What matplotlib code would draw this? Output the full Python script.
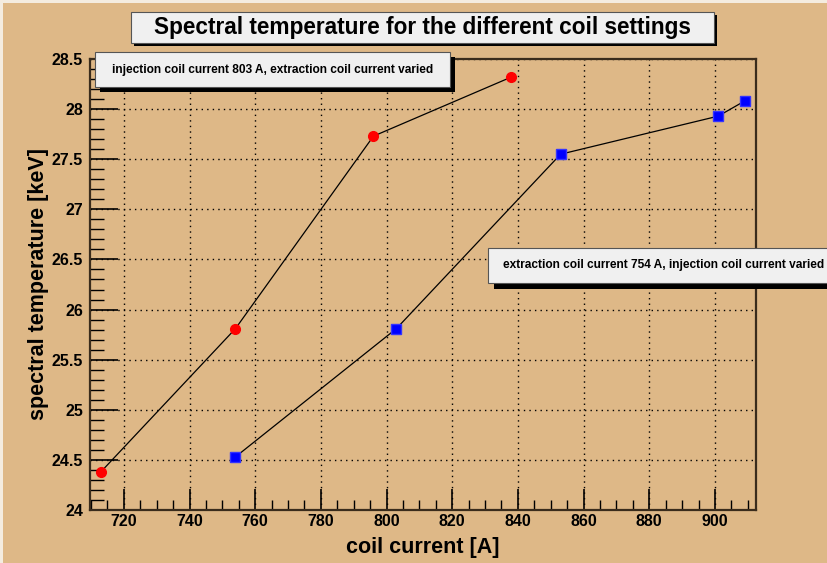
import matplotlib
matplotlib.use("Agg")
import matplotlib.pyplot as plt
from matplotlib.patches import Rectangle
from matplotlib.ticker import MultipleLocator

# data
extraction_current = [713, 754, 796, 838]
temp_extraction = [24.38, 25.81, 27.73, 28.32]
injection_current = [754, 803, 853, 901, 909]
temp_injection = [24.53, 25.81, 27.55, 27.93, 28.08]

title = "Spectral temperature for the different coil settings"
label_red = "injection coil current 803 A, extraction coil current varied"
label_blue = "extraction coil current 754 A, injection coil current varied"

W, H = 828, 563
tan = "#deb887"
font = "Liberation Sans"

fig = plt.figure(figsize=(W / 100, H / 100), dpi=100)
fig.patch.set_facecolor("#f4ece0")
fig.patches.append(Rectangle((3 / W, 0), 1, 1 - 3 / H, transform=fig.transFigure,
                             facecolor=tan, edgecolor="none", zorder=-10))

# axes frame in pixels: left 90, right 756, top 59, bottom 510
ax = fig.add_axes([90 / W, 1 - 510 / H, (756 - 90) / W, (510 - 59) / H])
ax.set_facecolor(tan)

ax.plot(extraction_current, temp_extraction, color="black", lw=0.9, zorder=3)
ax.plot(extraction_current, temp_extraction, "o", color="red", ms=7, mec="red", zorder=4, clip_on=False)
ax.plot(injection_current, temp_injection, color="black", lw=0.9, zorder=3)
ax.plot(injection_current, temp_injection, "s", color="blue", ms=7.5, mec="#3333ff", zorder=4, clip_on=False)

ax.set_xlim(709.7, 912.5)
ax.set_ylim(24, 28.5)
ax.xaxis.set_major_locator(MultipleLocator(20))
ax.xaxis.set_minor_locator(MultipleLocator(5))
ax.yaxis.set_major_locator(MultipleLocator(0.5))
ax.yaxis.set_minor_locator(MultipleLocator(0.1))
ax.yaxis.set_major_formatter(matplotlib.ticker.FuncFormatter(lambda v, p: f"{v:g}"))
ax.tick_params(axis="x", which="major", direction="in", length=15, width=1.2, pad=3)
ax.tick_params(axis="x", which="minor", direction="in", length=7, width=1)
ax.tick_params(axis="y", which="major", direction="in", length=20, width=1.2, pad=5)
ax.tick_params(axis="y", which="minor", direction="in", length=10, width=1)
ax.tick_params(top=False, right=False, which="both")
for lab in ax.get_xticklabels() + ax.get_yticklabels():
    lab.set_fontfamily(font)
    lab.set_fontweight("bold")
    lab.set_fontsize(11.5)
ax.grid(True, which="major", color="black", ls=(0, (1, 3)), lw=1)
for s in ax.spines.values():
    s.set_color("#3a2c1c")
    s.set_linewidth(1.6)

ax.set_xlabel("coil current [A]", fontfamily=font, fontweight="bold", fontsize=15.5, labelpad=6)
ax.set_ylabel("spectral temperature [keV]", fontfamily=font, fontweight="bold", fontsize=15.5, labelpad=2)


def box(x0, y0, x1, y1, text, size, shadow):
    # x0,y0,x1,y1 in pixels from top-left
    fx, fy = x0 / W, 1 - y1 / H
    fw, fh = (x1 - x0) / W, (y1 - y0) / H
    fig.patches.append(Rectangle((fx + shadow / W, fy - shadow / H), fw, fh, transform=fig.transFigure,
                                 facecolor="black", edgecolor="none", zorder=10))
    fig.patches.append(Rectangle((fx, fy), fw, fh, transform=fig.transFigure,
                                 facecolor="#f0f0f0", edgecolor="#555555", lw=0.8, zorder=11))
    fig.text(fx + fw / 2, fy + fh / 2, text, ha="center", va="center", fontfamily=font,
             fontweight="bold", fontsize=size, zorder=12)


box(131, 12, 714, 43, title, 16.3, 3)
box(95, 52, 450, 87, label_red, 8.6, 5)
box(488, 248, 840, 283, label_blue, 8.6, 6)

fig.savefig("out.png", dpi=100, facecolor=fig.get_facecolor())
